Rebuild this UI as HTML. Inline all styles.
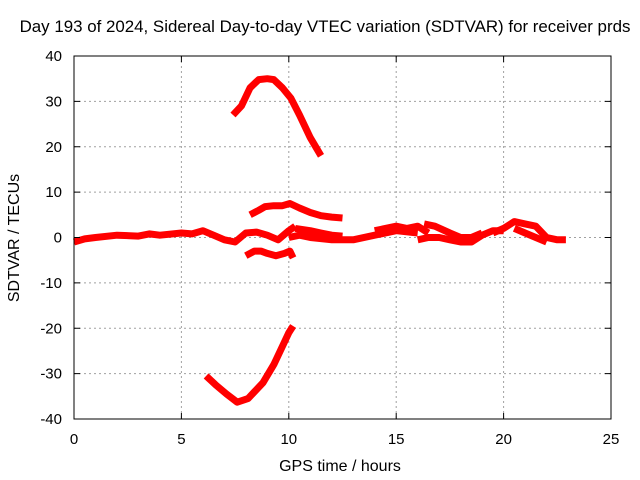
<!DOCTYPE html>
<html><head><meta charset="utf-8"><style>
body{margin:0;background:#fff}
svg{display:block;font-family:"Liberation Sans",sans-serif}
</style></head><body>
<svg id="chart" width="640" height="480">
<text x="325" y="32" text-anchor="middle" font-size="16.9">Day 193 of 2024, Sidereal Day-to-day VTEC variation (SDTVAR) for receiver prds</text>
<text x="340" y="471" text-anchor="middle" font-size="16">GPS time / hours</text>
<text transform="translate(19,238) rotate(-90)" text-anchor="middle" font-size="16">SDTVAR / TECUs</text>
<g id="grid"></g><g id="series"></g><g id="axes"></g>
</svg>
<script>
const xTicks=[0,5,10,15,20,25];
const yTicks=[-40,-30,-20,-10,0,10,20,30,40];
const seriesX=[
[7.4,7.8,8.2,8.6,9.0,9.3,9.7,10.1,10.5,11.0,11.5],
[6.15,6.6,7.1,7.6,8.1,8.4,8.8,9.3,9.7,10.0,10.2],
[8.2,8.6,8.9,9.3,9.7,10.05,10.5,11.0,11.5,12.0,12.5],
[8.0,8.4,8.7,9.0,9.4,9.8,10.05,10.2],
[0,0.5,1,2,3,3.5,4,5,5.5,6,6.5,7,7.5,8,8.5,9,9.5,10,10.3],
[10,10.5,11,12,13,14,15,16],
[10.3,11,11.5,12,12.5],
[14,15,15.5,16,16.5],
[16.3,16.8,17.5,18,18.5,19],
[16,16.5,17,17.5,18,18.5,19,19.5,20],
[19.5,20,20.5,21,21.5,22,22.5,22.9],
[20.5,21,21.5,22]
];
const seriesY=[
[27,29,33,34.8,35,34.8,33,30.7,27,22,18],
[-30.5,-32.5,-34.5,-36.3,-35.5,-34,-32,-28,-24,-21,-19.5],
[5,6,6.8,7,7,7.5,6.5,5.5,4.8,4.5,4.3],
[-4,-3,-3,-3.5,-4,-3.5,-3,-4.5],
[-1,-0.3,0,0.5,0.3,0.8,0.5,1,0.8,1.5,0.5,-0.5,-1,1,1.2,0.5,-0.5,1.5,2.5],
[0,0.5,0,-0.5,-0.5,0.5,1.5,1],
[2,1.5,1,0.5,0.3],
[1.5,2.5,2,2.5,1],
[3,2.5,1,0,0,1],
[-0.5,0,0,-0.5,-1,-1,0.5,1.5,1.5],
[1,2,3.5,3,2.5,0,-0.5,-0.5],
[2,1,0,-1]
];
const X0=74,X1=611,Y0=419,Y1=56;
const sx=v=>X0+(v-0)/25*(X1-X0);
const sy=v=>Y0-(v+40)/80*(Y0-Y1);
const NS="http://www.w3.org/2000/svg";
const mk=(t,a,p)=>{const e=document.createElementNS(NS,t);for(const k in a)e.setAttribute(k,a[k]);p.appendChild(e);return e;};
const grid=document.getElementById('grid'),axes=document.getElementById('axes'),ser=document.getElementById('series');
xTicks.forEach(t=>{
  const x=sx(t);
  if(t>0&&t<25){const g=mk('line',{x1:x,x2:x,y1:Y1,y2:Y0,stroke:'#a0a0a0','stroke-dasharray':'2,3'},grid);
  
  }
  mk('line',{x1:x,x2:x,y1:Y0,y2:Y0-6,stroke:'#000'},axes);
  mk('line',{x1:x,x2:x,y1:Y1,y2:Y1+6,stroke:'#000'},axes);
  const l=mk('text',{x:x,y:444,'text-anchor':'middle','font-size':15},axes);l.textContent=t;
  
  
});
yTicks.forEach(t=>{
  const y=sy(t);
  if(t>-40&&t<40){const g=mk('line',{x1:X0,x2:X1,y1:y,y2:y,stroke:'#a0a0a0','stroke-dasharray':'2,3'},grid);
  
  }
  mk('line',{x1:X0,x2:X0+6,y1:y,y2:y,stroke:'#000'},axes);
  mk('line',{x1:X1,x2:X1-6,y1:y,y2:y,stroke:'#000'},axes);
  const l=mk('text',{x:62,y:y+5,'text-anchor':'end','font-size':15},axes);l.textContent=t;
  
  
});
const fr=mk('rect',{x:X0,y:Y1,width:X1-X0,height:Y0-Y1,fill:'none',stroke:'#000'},axes);


seriesX.forEach((xs,i)=>{
  const pts=xs.map((x,j)=>sx(x).toFixed(1)+','+sy(seriesY[i][j]).toFixed(1)).join(' ');
  const p=mk('polyline',{points:pts,fill:'none',stroke:'#ff0000','stroke-width':7,'stroke-linejoin':'round'},ser);
  
  
});
</script>
</body></html>
